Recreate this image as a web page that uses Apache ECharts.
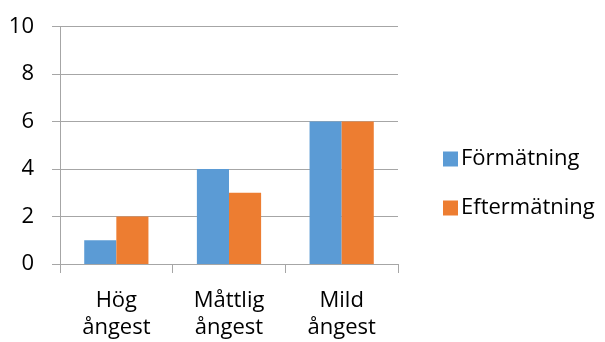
<!DOCTYPE html>
<html>
<head>
<meta charset="utf-8">
<script src="https://cdn.jsdelivr.net/npm/echarts@6/dist/echarts.min.js"></script>
<style>
  html, body { margin: 0; padding: 0; background: #ffffff; }
  #chart { width: 605px; height: 342px; }
</style>
</head>
<body>
<div id="chart"></div>
<script>
// Ångestnivå före och efter
const categories = ['Hög\nångest', 'Måttlig\nångest', 'Mild\nångest'];
const seriesNames = ['Förmätning', 'Eftermätning'];
const formatning = [1, 4, 6];
const eftermatning = [2, 3, 6];
const yTicks = [0, 2, 4, 6, 8, 10];

const FONT = '"Open Sans", sans-serif';
const chart = echarts.init(document.getElementById('chart'), null, { renderer: 'canvas' });

chart.setOption({
  animation: false,
  backgroundColor: '#ffffff',
  color: ['#5B9BD5', '#ED7D31'],
  grid: { left: 60, right: 207, top: 26.5, bottom: 78, containLabel: false },
  legend: {
    orient: 'vertical',
    left: 438,
    top: 143,
    itemWidth: 15,
    itemHeight: 15,
    itemGap: 27,
    icon: 'rect',
    textStyle: { fontFamily: FONT, fontSize: 22, color: '#000000', padding: [0, 0, 0, -2] },
    data: seriesNames
  },
  xAxis: {
    type: 'category',
    data: categories,
    axisLine: { show: true, lineStyle: { color: '#a6a6a6', width: 1 } },
    axisTick: { show: true, length: 9, alignWithLabel: false, lineStyle: { color: '#a6a6a6' } },
    axisLabel: {
      fontFamily: FONT, fontSize: 22, color: '#000000',
      margin: 23, lineHeight: 27, interval: 0
    }
  },
  yAxis: {
    type: 'value',
    min: yTicks[0],
    max: yTicks[yTicks.length - 1],
    interval: 2,
    axisLine: { show: true, lineStyle: { color: '#a6a6a6', width: 1 } },
    axisTick: { show: true, inside: false, length: 8, lineStyle: { color: '#a6a6a6' } },
    splitLine: { show: true, lineStyle: { color: '#a6a6a6', width: 1 } },
    axisLabel: { fontFamily: FONT, fontSize: 22, color: '#000000', margin: 26 }
  },
  series: [
    { name: seriesNames[0], type: 'bar', data: formatning, barGap: '0%', barCategoryGap: '43%' },
    { name: seriesNames[1], type: 'bar', data: eftermatning, barGap: '0%', barCategoryGap: '43%' }
  ]
});
</script>
</body>
</html>
